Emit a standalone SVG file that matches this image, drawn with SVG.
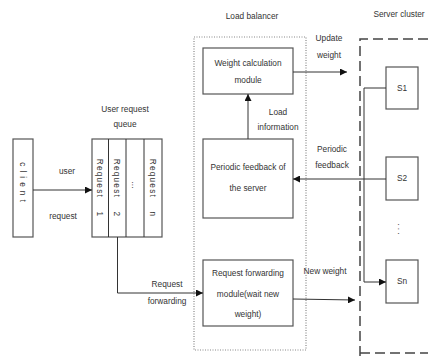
<svg xmlns="http://www.w3.org/2000/svg" width="428" height="356" viewBox="0 0 428 356">
<defs>
<style>
text{font-family:"Liberation Sans",Arial,sans-serif;font-size:8.3px;fill:#333;text-anchor:middle}
.box{fill:#fff;stroke:#555;stroke-width:1.2}
.ln{fill:none;stroke:#333;stroke-width:1}
.dot{fill:none;stroke:#888;stroke-width:1.2;stroke-dasharray:1 1.5}
.dash{fill:none;stroke:#444;stroke-width:1.5;stroke-dasharray:10 5}
</style>
<marker id="ah" viewBox="0 0 10 10" refX="10" refY="5" markerWidth="7" markerHeight="7" orient="auto-start-reverse" markerUnits="userSpaceOnUse">
<path d="M0,0 L10,5 L0,10 z" fill="#111"/>
</marker>
</defs>
<rect width="428" height="356" fill="#fff"/>

<g id="client">
<rect class="box" x="13" y="139" width="20" height="98"/>
<text transform="translate(23,184) rotate(90)" dy="3" letter-spacing="4">client</text>
</g>

<g id="queue">
<text x="125" y="112">User request</text>
<text x="125" y="127">queue</text>
<rect class="box" x="92" y="139" width="70" height="98"/>
<line class="ln" x1="108.5" y1="139" x2="108.5" y2="237" stroke-width="1.6"/>
<line class="ln" x1="126" y1="139" x2="126" y2="237" stroke-width="1.6"/>
<line class="ln" x1="144" y1="139" x2="144" y2="237" stroke-width="1.6"/>
<text transform="translate(100,188) rotate(90)" dy="3" letter-spacing="1.2">Request <tspan dx="10">1</tspan></text>
<text transform="translate(117,188) rotate(90)" dy="3" letter-spacing="1.2">Request <tspan dx="10">2</tspan></text>
<text transform="translate(135,185) rotate(90)" dy="3">...</text>
<text transform="translate(153,188) rotate(90)" dy="3" letter-spacing="1.2">Request <tspan dx="10">n</tspan></text>
</g>

<g id="load-balancer">
<rect class="dot" x="194" y="37" width="112" height="313"/>
<text x="252" y="19">Load balancer</text>
</g>

<g id="weight-calc">
<rect class="box" x="203" y="48" width="90" height="46"/>
<text x="248" y="66">Weight calculation</text>
<text x="248" y="83">module</text>
</g>

<g id="periodic-feedback">
<rect class="box" x="203" y="139" width="90" height="79"/>
<text x="248" y="170">Periodic feedback of</text>
<text x="248" y="191">the server</text>
</g>

<g id="request-forwarding">
<rect class="box" x="203" y="260" width="90" height="66"/>
<text x="248" y="276">Request forwarding</text>
<text x="248" y="297">module(wait new</text>
<text x="248" y="317">weight)</text>
</g>

<g id="server-cluster">
<path class="dash" d="M360,356 V39 H430"/>
<path class="dash" d="M360,353 H430"/>
<text x="399" y="17">Server cluster</text>
</g>

<g id="s1">
<rect class="box" x="386" y="67" width="32" height="42"/>
<text x="402" y="91">S1</text>
</g>
<g id="s2">
<rect class="box" x="386" y="157" width="32" height="43"/>
<text x="402" y="181">S2</text>
</g>
<g id="ellipsis">
<text transform="translate(401,230) rotate(90)" dy="3" letter-spacing="2">...</text>
</g>
<g id="sn">
<rect class="box" x="386" y="260" width="32" height="43"/>
<text x="402" y="284">Sn</text>
</g>

<g id="connectors">
<line class="ln" x1="33" y1="190" x2="92" y2="190" marker-end="url(#ah)"/>
<text x="67" y="174">user</text>
<text x="63" y="219">request</text>

<polyline class="ln" points="117.5,237 117.5,293 203,293" marker-end="url(#ah)"/>
<text x="167" y="287">Request</text>
<text x="167" y="304">forwarding</text>

<line class="ln" x1="248" y1="139" x2="248" y2="94" marker-end="url(#ah)"/>
<text x="278" y="115">Load</text>
<text x="278" y="130">information</text>

<line class="ln" x1="293" y1="72" x2="347" y2="72" marker-end="url(#ah)"/>
<text x="329" y="41">Update</text>
<text x="329" y="58">weight</text>

<line class="ln" x1="386" y1="179" x2="293" y2="179" marker-end="url(#ah)"/>
<text x="332" y="152">Periodic</text>
<text x="332" y="168">feedback</text>

<polyline class="ln" points="386,88 364,88 364,282 386,282" marker-end="url(#ah)"/>

<line class="ln" x1="293" y1="299" x2="355" y2="300" marker-end="url(#ah)"/>
<text x="325" y="274">New weight</text>
</g>
</svg>
